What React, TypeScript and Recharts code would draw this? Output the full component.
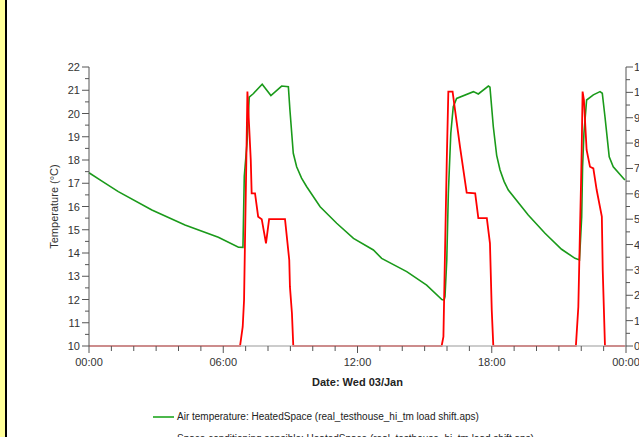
import { LineChart, Line, XAxis, YAxis } from "recharts";

// air temperature, hours since midnight
const tempHours = [
  0, 0.56, 1.31, 2.81, 4.29, 5.78, 6.68, 6.88, 6.94, 7.06, 7.16, 7.34, 7.74, 8.13, 8.61, 8.91,
  8.98, 9.13, 9.28, 9.5, 9.73, 10.33, 11.07, 11.82, 12.71, 13.08, 14.2, 15.09, 15.77, 15.87,
  15.91, 15.99, 16.06, 16.17, 16.28, 16.43, 17.18, 17.4, 17.85, 17.92, 18.07, 18.22, 18.37,
  18.55, 18.74, 19.63, 20.38, 21.12, 21.72, 21.92, 22.02, 22.06, 22.12, 22.24, 22.54, 22.84,
  22.94, 23.06, 23.25, 23.43, 23.95,
];
const tempValues = [
  17.45, 17.1, 16.64, 15.85, 15.2, 14.68, 14.25, 14.24, 17.3, 18.7, 20.7, 20.85, 21.26, 20.77,
  21.18, 21.15, 20.15, 18.29, 17.71, 17.22, 16.85, 15.99, 15.28, 14.63, 14.13, 13.77, 13.2,
  12.62, 12.0, 11.98, 12.12, 13.7, 16.57, 19.15, 20.29, 20.65, 20.94, 20.84, 21.18, 21.13,
  19.43, 18.2, 17.57, 17.08, 16.71, 15.63, 14.85, 14.16, 13.77, 13.7, 15.56, 17.71, 19.15,
  20.58, 20.8, 20.94, 20.87, 19.86, 18.14, 17.71, 17.14,
];

// space conditioning sensible
const powerHours = [
  0, 6.75, 6.87, 6.93, 6.97, 7.02, 7.08, 7.15, 7.23, 7.27, 7.42, 7.56, 7.72, 7.91, 8.05, 8.76,
  8.95, 8.98, 9.07, 9.13, 15.76, 15.84, 15.91, 15.99, 16.06, 16.25, 16.36, 16.58, 16.88, 17.26,
  17.4, 17.78, 17.92, 18.0, 18.07, 21.76, 21.87, 21.94, 21.99, 22.02, 22.06, 22.12, 22.16,
  22.24, 22.39, 22.54, 22.69, 22.92, 22.96, 23.06, 23.95,
];
const powerValues = [
  0, 0, 0.76, 1.81, 4.05, 6.68, 10.03, 8.78, 7.33, 6.02, 6.02, 5.1, 5.0, 4.05, 5.0, 5.0, 3.39,
  2.34, 1.29, 0, 0, 0.37, 3.65, 7.33, 10.03, 10.03, 9.3, 7.86, 6.05, 6.02, 5.04, 5.04, 4.05,
  1.42, 0, 0, 1.55, 4.44, 6.42, 7.73, 10.03, 9.7, 9.04, 7.73, 7.07, 7.0, 6.15, 5.1, 3.0, 0, 0,
];

const xTicks = [0, 1, 2, 3, 4, 5, 6, 7, 8, 9, 10, 11, 12, 13, 14, 15, 16, 17, 18, 19, 20, 21, 22, 23, 24];
const xLabelHours = [0, 6, 12, 18, 24];
const xLabels = ["00:00", "06:00", "12:00", "18:00", "00:00"];

const leftTicks = [
  10, 10.5, 11, 11.5, 12, 12.5, 13, 13.5, 14, 14.5, 15, 15.5, 16, 16.5, 17, 17.5, 18, 18.5,
  19, 19.5, 20, 20.5, 21, 21.5, 22,
];
const rightTicks = [
  0, 0.5, 1, 1.5, 2, 2.5, 3, 3.5, 4, 4.5, 5, 5.5, 6, 6.5, 7, 7.5, 8, 8.5, 9, 9.5, 10, 10.5, 11,
];

const tempData = tempHours.map((h, i) => ({ h, temp: tempValues[i] }));
const powerData = powerHours.map((h, i) => ({ h, power: powerValues[i] }));

const FONT = "'Liberation Sans', Arial, sans-serif";
const AXIS = "#555";

const LeftTick = ({ x, y, payload }: any) => {
  const major = Number.isInteger(payload.value);
  return (
    <g>
      <line x1={x - (major ? 7 : 4)} x2={x} y1={y} y2={y} stroke={AXIS} />
      {major && (
        <text x={x - 9} y={y + 4} textAnchor="end" fontSize={11} fill="#333" fontFamily={FONT}>
          {payload.value}
        </text>
      )}
    </g>
  );
};

const RightTick = ({ x, y, payload }: any) => {
  const major = Number.isInteger(payload.value);
  return (
    <g>
      <line x1={x} x2={x + (major ? 7 : 4)} y1={y} y2={y} stroke={AXIS} />
      {major && (
        <text x={x + 8} y={y + 4} textAnchor="start" fontSize={11} fill="#333" fontFamily={FONT}>
          {payload.value}
        </text>
      )}
    </g>
  );
};

const BottomTick = ({ x, y, payload }: any) => {
  const idx = xLabelHours.indexOf(payload.value);
  return (
    <g>
      <line x1={x} x2={x} y1={y} y2={y + (idx >= 0 ? 7 : 5)} stroke={AXIS} />
      {idx >= 0 && (
        <text x={x} y={y + 20} textAnchor="middle" fontSize={11} fill="#333" fontFamily={FONT}>
          {xLabels[idx]}
        </text>
      )}
    </g>
  );
};

const legendItems = [
  { color: "#4cb84c", text: "Air temperature: HeatedSpace (real_testhouse_hi_tm load shift.aps)" },
  { color: "#ff0000", text: "Space conditioning sensible: HeatedSpace (real_testhouse_hi_tm load shift.aps)" },
];

export default function App() {
  return (
    <div
      style={{
        position: "absolute",
        left: 0,
        top: 0,
        width: 639,
        height: 437,
        background: "#fff",
        overflow: "hidden",
      }}
    >
      <div style={{ position: "absolute", left: 0, top: 0, width: 5, height: 437, background: "#ffff99" }} />
      <div style={{ position: "absolute", left: 5, top: 0, width: 2, height: 437, background: "#000" }} />

      <div style={{ position: "absolute", left: 0, top: 0 }}>
        <LineChart width={639} height={437} margin={{ top: 67, right: 0, bottom: 61, left: 29 }}>
          <XAxis
            type="number"
            dataKey="h"
            domain={[0, 24]}
            ticks={xTicks}
            interval={0}
            tickSize={0}
            tickMargin={0}
            tickLine={false}
            tick={BottomTick}
            axisLine={{ stroke: "#bbb", strokeWidth: 1.5 }}
            allowDuplicatedCategory={false}
            height={30}
            label={{
              value: "Date: Wed 03/Jan",
              position: "insideBottom",
              offset: -10,
              style: { fontSize: 11, fontWeight: "bold", fill: "#222", fontFamily: FONT },
            }}
          />
          <YAxis
            yAxisId="left"
            type="number"
            domain={[10, 22]}
            ticks={leftTicks}
            interval={0}
            tickSize={0}
            tickMargin={0}
            tickLine={false}
            tick={LeftTick}
            axisLine={{ stroke: AXIS }}
            width={60}
            label={{
              content: ({ viewBox }: any) => {
                const cx = viewBox.x + 29;
                const cy = viewBox.y + viewBox.height / 2;
                return (
                  <text
                    x={cx}
                    y={cy}
                    transform={`rotate(-90 ${cx} ${cy})`}
                    textAnchor="middle"
                    fontSize={11}
                    fill="#333"
                    fontFamily={FONT}
                  >
                    Temperature (°C)
                  </text>
                );
              },
            }}
          />
          <YAxis
            yAxisId="right"
            orientation="right"
            type="number"
            domain={[0, 11]}
            ticks={rightTicks}
            interval={0}
            tickSize={0}
            tickMargin={0}
            tickLine={false}
            tick={RightTick}
            axisLine={{ stroke: AXIS }}
            width={13}
          />
          <Line
            yAxisId="left"
            data={tempData}
            dataKey="temp"
            stroke="#1a9a1a"
            strokeWidth={1.6}
            dot={false}
            isAnimationActive={false}
          />
          <Line
            yAxisId="right"
            data={powerData}
            dataKey="power"
            stroke="#ff0000"
            strokeWidth={1.8}
            dot={false}
            isAnimationActive={false}
          />
        </LineChart>
      </div>

      {legendItems.map((item, i) => (
        <div
          key={i}
          style={{
            position: "absolute",
            left: 153,
            top: 411 + i * 22,
            display: "flex",
            alignItems: "center",
            fontFamily: FONT,
            fontSize: 10,
            color: "#222",
            whiteSpace: "nowrap",
          }}
        >
          <span style={{ display: "inline-block", width: 21, height: 2, background: item.color, marginRight: 3 }} />
          <span>{item.text}</span>
        </div>
      ))}
    </div>
  );
}
